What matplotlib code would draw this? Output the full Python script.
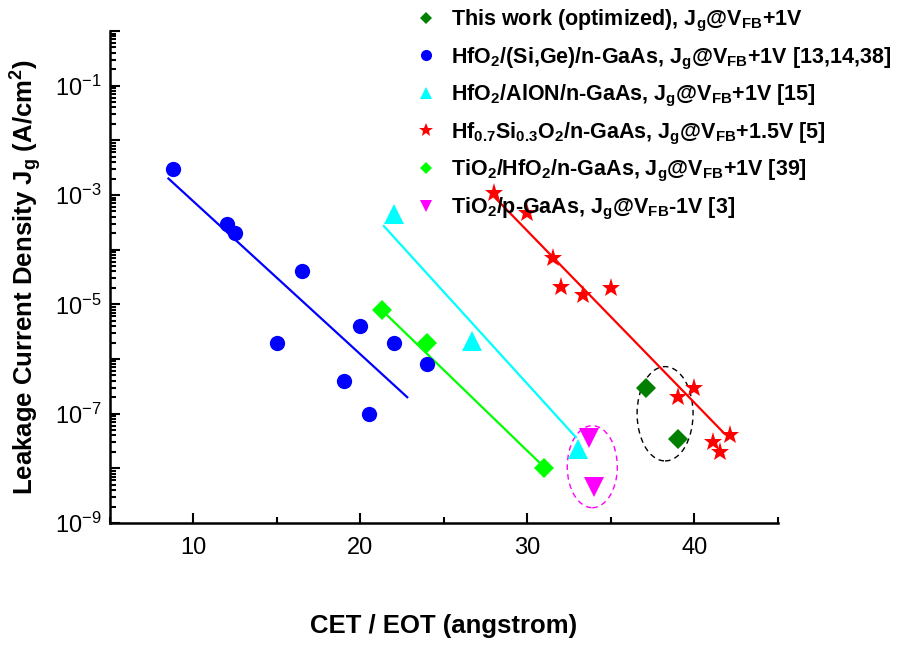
import matplotlib
matplotlib.use('Agg')
import matplotlib.pyplot as plt
from matplotlib.patches import Ellipse
from matplotlib.lines import Line2D
from matplotlib.ticker import LogLocator, FuncFormatter, MultipleLocator, NullFormatter
import numpy as np

plt.rcParams['font.family'] = ['Liberation Sans', 'DejaVu Sans']
plt.rcParams['mathtext.fontset'] = 'custom'
plt.rcParams['mathtext.rm'] = 'Liberation Sans:bold'
plt.rcParams['mathtext.it'] = 'Liberation Sans:bold'
plt.rcParams['mathtext.bf'] = 'Liberation Sans:bold'
plt.rcParams['mathtext.sf'] = 'Liberation Sans'

# this work (optimized)
work_x = [37.1, 39.0]
work_y = [3e-7, 3.5e-8]

# HfO2/(Si,Ge)/n-GaAs
hfsige_x = [8.8, 12.0, 12.5, 16.5, 15.0, 20.0, 22.0, 19.0, 20.5, 24.0]
hfsige_y = [3e-3, 3e-4, 2e-4, 4e-5, 2e-6, 4e-6, 2e-6, 4e-7, 1e-7, 8e-7]
hfsige_fit_x = [8.5, 22.8]
hfsige_fit_y = [2e-3, 2e-7]

# HfO2/AlON/n-GaAs
alon_x = [22.0, 26.7, 33.0]
alon_y = [4.5e-4, 2.1e-6, 2.3e-8]
alon_fit_x = [21.4, 32.9]
alon_fit_y = [2.7e-4, 3.7e-8]

# Hf0.7Si0.3O2/n-GaAs
hfsio_x = [28.0, 30.0, 31.5, 32.0, 33.3, 35.0, 40.0, 39.0, 42.1, 41.1, 41.5]
hfsio_y = [1.1e-3, 4.7e-4, 7e-5, 2.1e-5, 1.5e-5, 2e-5, 3e-7, 2e-7, 4e-8, 3e-8, 2e-8]
hfsio_fit_x = [28.0, 41.8]
hfsio_fit_y = [9.3e-4, 4.3e-8]

# TiO2/HfO2/n-GaAs
tihf_x = [21.3, 24.0, 31.0]
tihf_y = [7.8e-6, 2e-6, 1e-8]
tihf_fit_x = [21.6, 31.0]
tihf_fit_y = [6.3e-6, 1.05e-8]

# TiO2/p-GaAs
tip_x = [33.7, 34.0]
tip_y = [3.6e-8, 4.5e-9]

labels = [
    r'This work (optimized), J$_\mathrm{g}$@V$_\mathrm{FB}$+1V',
    r'HfO$_\mathrm{2}$/(Si,Ge)/n-GaAs, J$_\mathrm{g}$@V$_\mathrm{FB}$+1V [13,14,38]',
    r'HfO$_\mathrm{2}$/AlON/n-GaAs, J$_\mathrm{g}$@V$_\mathrm{FB}$+1V [15]',
    r'Hf$_\mathrm{0.7}$Si$_\mathrm{0.3}$O$_\mathrm{2}$/n-GaAs, J$_\mathrm{g}$@V$_\mathrm{FB}$+1.5V [5]',
    r'TiO$_\mathrm{2}$/HfO$_\mathrm{2}$/n-GaAs, J$_\mathrm{g}$@V$_\mathrm{FB}$+1V [39]',
    r'TiO$_\mathrm{2}$/p-GaAs, J$_\mathrm{g}$@V$_\mathrm{FB}$-1V [3]',
]

fig = plt.figure(figsize=(9.06, 6.5), dpi=100)
ax = fig.add_axes([0.1214, 0.1954, 0.7373, 0.7569])

# fitted trend lines
ax.plot(hfsige_fit_x, hfsige_fit_y, color='#0000ff', lw=1.6)
ax.plot(alon_fit_x, alon_fit_y, color='#00ffff', lw=1.6)
ax.plot(hfsio_fit_x, hfsio_fit_y, color='#ff0000', lw=1.6)
ax.plot(tihf_fit_x, tihf_fit_y, color='#00ff00', lw=1.6)

ax.plot(work_x, work_y, 'D', color='#007f00', ms=10.5, mew=0, ls='none')
ax.plot(hfsige_x, hfsige_y, 'o', color='#0000ff', ms=11, mew=0, ls='none')
ax.plot(alon_x, alon_y, '^', color='#00ffff', ms=14, mew=0, ls='none')
ax.plot(hfsio_x, hfsio_y, '*', color='#ff0000', ms=14, mew=0, ls='none')
ax.plot(tihf_x, tihf_y, 'D', color='#00ff00', ms=10, mew=0, ls='none')
ax.plot(tip_x, tip_y, 'v', color='#ff00ff', ms=14, mew=0, ls='none')

# dashed rings around groups of points
ax.add_patch(Ellipse((0.722, 0.1144), 0.0749, 0.1667, transform=ax.transAxes,
                     fill=False, ec='#ff00ff', ls=(0, (4, 3)), lw=1.0))
ax.add_patch(Ellipse((0.831, 0.222), 0.0838, 0.1917, transform=ax.transAxes,
                     fill=False, ec='black', ls=(0, (4, 3)), lw=1.0))

ax.set_xlim(5, 45)
ax.set_yscale('log')
ax.set_ylim(1e-9, 1e0)

ax.xaxis.set_major_locator(MultipleLocator(10))
ax.xaxis.set_minor_locator(MultipleLocator(5))
ax.yaxis.set_major_locator(LogLocator(base=10, numticks=20))
ax.yaxis.set_minor_locator(LogLocator(base=10, subs=np.arange(2, 10), numticks=20))


def ylab(v, pos):
    e = int(round(np.log10(v)))
    if e % 2 == 0:
        return ''
    return r'$\mathsf{10^{%d}}$' % e


ax.yaxis.set_major_formatter(FuncFormatter(ylab))
ax.yaxis.set_minor_formatter(NullFormatter())

for s in ['top', 'right']:
    ax.spines[s].set_visible(False)
for s in ['left', 'bottom']:
    ax.spines[s].set_linewidth(1.8)

ax.tick_params(which='both', direction='in', width=1.5, labelsize=17)
ax.tick_params(which='major', length=7)
ax.tick_params(which='minor', length=4)
ax.tick_params(axis='x', pad=10)
ax.tick_params(axis='y', pad=6)

ax.set_xlabel('CET / EOT (angstrom)', fontsize=18.5, fontweight='bold', labelpad=40)
ax.set_ylabel(r'Leakage Current Density J$_\mathrm{g}$ (A/cm$^\mathrm{2}$)',
              fontsize=18.5, fontweight='bold', labelpad=8)

# small uniform symbols for the legend
handles = [
    Line2D([], [], marker='D', color='#007f00', ms=6.5, mew=0, ls='none'),
    Line2D([], [], marker='o', color='#0000ff', ms=8, mew=0, ls='none'),
    Line2D([], [], marker='^', color='#00ffff', ms=9, mew=0, ls='none'),
    Line2D([], [], marker='*', color='#ff0000', ms=10, mew=0, ls='none'),
    Line2D([], [], marker='D', color='#00ff00', ms=6.5, mew=0, ls='none'),
    Line2D([], [], marker='v', color='#ff00ff', ms=9, mew=0, ls='none'),
]
fig.legend(handles, labels, loc='upper left',
           bbox_to_anchor=(415 / 906, 1 - 8 / 650), frameon=False,
           prop={'weight': 'bold', 'size': 15.5},
           handlelength=1.0, handletextpad=0.65, borderpad=0, borderaxespad=0,
           labelspacing=0.53)

fig.savefig('out.png', dpi=100)
